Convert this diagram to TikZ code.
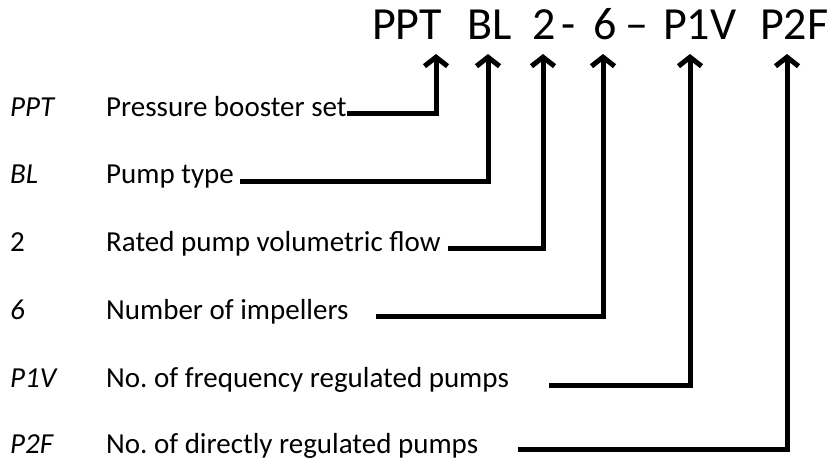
\documentclass[tikz,border=0pt]{standalone}
\usepackage{fontspec}
\setmainfont{Carlito}
\usetikzlibrary{arrows.meta}
\frenchspacing
\begin{document}
\begin{tikzpicture}[x=1pt,y=-1pt,
 code/.style={anchor=base west, inner sep=0pt, font=\fontsize{46}{50}\selectfont},
 keyl/.style={anchor=base west, inner sep=0pt, font=\fontsize{29}{33}\selectfont\itshape},
 keyr/.style={anchor=base west, inner sep=0pt, font=\fontsize{29}{33}\selectfont},
 desc/.style={anchor=base west, inner sep=0pt, font=\fontsize{29}{33}\selectfont},
 conn/.style={line width=5pt, line join=miter, -{Straight Barb[length=9pt,width=23pt]}}]
\useasboundingbox (0,0) rectangle (832,464);
% code line
\node[code] (cPPT) at (372,39) {PPT};
\node[code] (cBL) at (467,39) {BL};
\node[code] (c2) at (532,39) {2};
\node[code] (cd1) at (561,39) {-};
\node[code] (c6) at (593,39) {6};
\node[code] (cd2) at (625,39) {–};
\node[code] (cP1V) at (663,39) {P1V};
\node[code] (cP2F) at (760,39) {P2F};
% arrow targets
\coordinate (aPPT) at (436,54);
\coordinate (aBL) at (488,54);
\coordinate (a2) at (543,54);
\coordinate (a6) at (603,54);
\coordinate (aP1V) at (690,54);
\coordinate (aP2F) at (787,54);
% rows
\node[keyl] (kPPT) at (10,116) {PPT};
\node[desc] (dPPT) at (106,116) {Pressure booster set};
\node[keyl] (kBL) at (10,183) {BL};
\node[desc] (dBL) at (106,183) {Pump type};
\node[keyr] (k2) at (10,251) {2};
\node[desc] (d2) at (106,251) {Rated pump volumetric flow};
\node[keyl] (k6) at (10,319) {6};
\node[desc] (d6) at (106,319) {Number of impellers};
\node[keyl] (kP1V) at (10,387) {P1V};
\node[desc] (dP1V) at (106,387) {No. of frequency regulated pumps};
\node[keyl] (kP2F) at (10,453) {P2F};
\node[desc] (dP2F) at (106,453) {No. of directly regulated pumps};
% line starts
\coordinate (sPPT) at (347,113);
\coordinate (sBL) at (240,181);
\coordinate (s2) at (448,248);
\coordinate (s6) at (376,316);
\coordinate (sP1V) at (549,385);
\coordinate (sP2F) at (518,449);
\draw[conn] (sPPT) -| (aPPT);
\draw[conn] (sBL) -| (aBL);
\draw[conn] (s2) -| (a2);
\draw[conn] (s6) -| (a6);
\draw[conn] (sP1V) -| (aP1V);
\draw[conn] (sP2F) -| (aP2F);
\end{tikzpicture}
\end{document}
